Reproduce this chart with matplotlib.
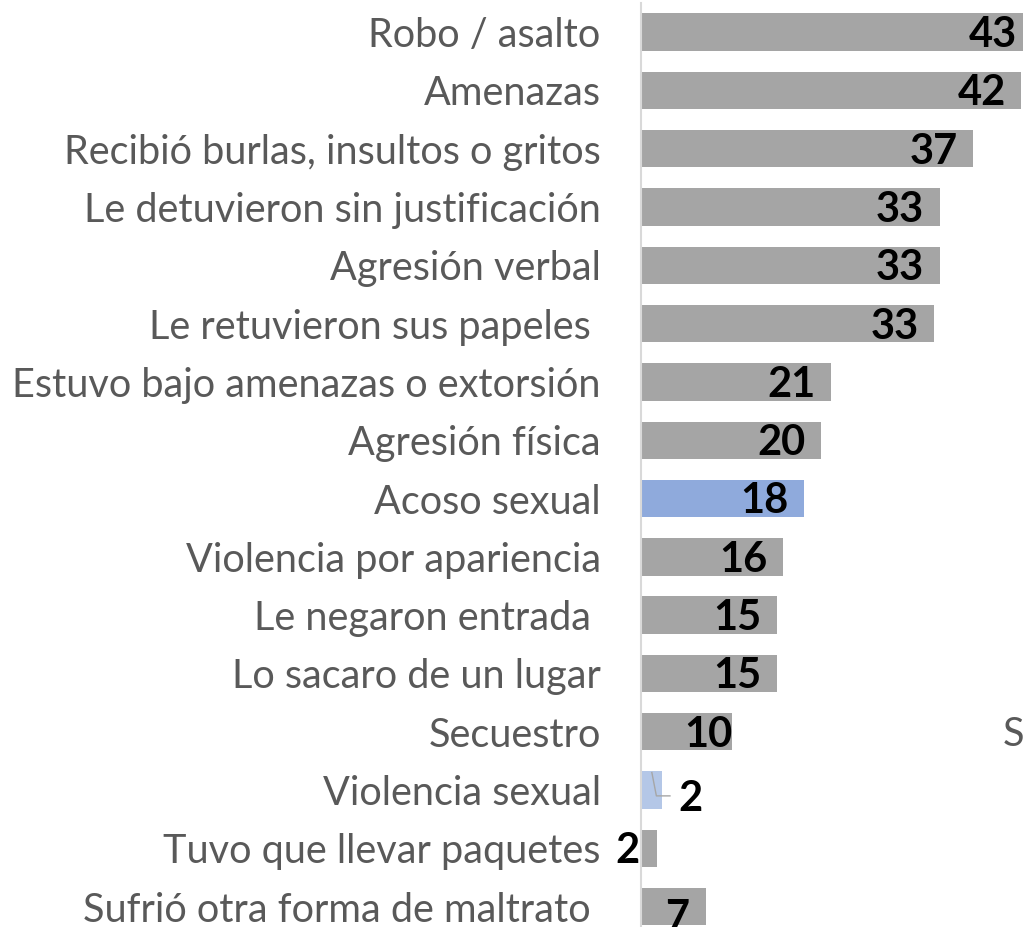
import matplotlib
matplotlib.use("Agg")
import matplotlib.pyplot as plt

categories = ["Robo / asalto", "Amenazas", "Recibió burlas, insultos o gritos",
              "Le detuvieron sin justificación", "Agresión verbal",
              "Le retuvieron sus papeles ", "Estuvo bajo amenazas o extorsión",
              "Agresión física", "Acoso sexual", "Violencia por apariencia",
              "Le negaron entrada ", "Lo sacaro de un lugar", "Secuestro",
              "Violencia sexual", "Tuvo que llevar paquetes",
              "Sufrió otra forma de maltrato "]
values = [43, 42, 37, 33, 33, 33, 21, 20, 18, 16, 15, 15, 10, 2, 2, 7]
bar_len = [43.2, 42.0, 36.7, 33.0, 33.0, 32.4, 21.0, 19.9, 18.0, 15.7, 15.0, 15.0, 10.1, 2.3, 1.8, 7.2]
colors = ["#A5A5A5"] * 16
colors[8] = "#8FAADC"
colors[13] = "#B4C7E7"

W, H = 1023, 927
fig = plt.figure(figsize=(W / 100, H / 100), dpi=100)
px_per_unit = 9.05
x0 = 641
xmax = 45
top = 3
slot = 58.3
ax_h = 16 * slot
ax = fig.add_axes([x0 / W, 1 - (top + ax_h) / H, xmax * px_per_unit / W, ax_h / H])
n = len(categories)
ypos = list(range(n))
ax.barh(ypos, bar_len, height=0.64, color=colors, zorder=2)
ax.set_xlim(0, xmax)
ax.set_ylim(n - 0.5, -0.5)
for s in ["top", "right", "bottom"]:
    ax.spines[s].set_visible(False)
ax.spines["left"].set_color("#D9D9D9")
ax.spines["left"].set_linewidth(1.5)
ax.set_xticks([])
ax.set_yticks(ypos)
ax.set_yticklabels(categories, fontsize=28.5, color="#595959", family="Lato")
ax.tick_params(axis="y", length=0, pad=29)

numfont = dict(fontsize=30, fontweight="bold", family="Lato", color="black")
off = 1.7
dy = 0.05
for i, (v, b) in enumerate(zip(values, bar_len)):
    if i == 13:
        ax.plot([1.2, 1.7, 3.2], [i - 0.3, i + 0.1, i + 0.1], color="#A6A6A6", lw=1, zorder=3)
        ax.text(4.1, i + 0.15, str(v), ha="left", va="center", **numfont)
    elif i == 14:
        ax.text(-0.2, i + dy, str(v), ha="right", va="center", **numfont)
    elif i == 15:
        ax.text(b / 2 + 0.4, i + 0.2, str(v), ha="center", va="center", **numfont)
    elif i == 12:
        ax.text(b, i + dy, str(v), ha="right", va="center", **numfont)
    else:
        ax.text(b - off, i + dy, str(v), ha="right", va="center", **numfont)

fig.text(1003 / W, 1 - 735 / H, "S", fontsize=28.5, color="#595959", family="Lato",
         ha="left", va="center")

fig.savefig("out.png", dpi=100)
